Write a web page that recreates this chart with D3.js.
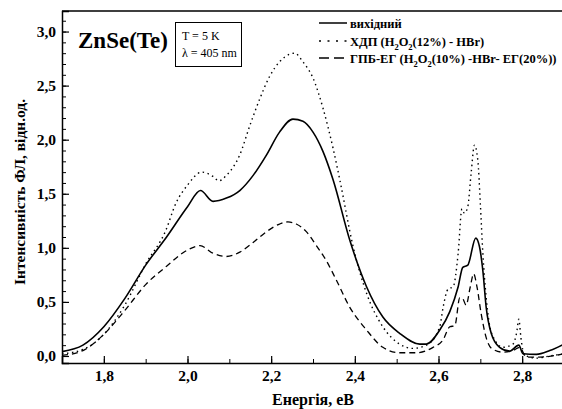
<!DOCTYPE html>
<html>
<head>
<meta charset="utf-8">
<script src="https://cdn.jsdelivr.net/npm/d3@7"></script>
<style>
  body { margin: 0; background: #fff; }
</style>
</head>
<body>
<div id="chart"></div>
<script>
// data (energy in eV, intensity in rel. units)
var energyBase = [1.70, 1.75, 1.80, 1.85, 1.90, 1.95, 2.00, 2.031, 2.061, 2.093, 2.125, 2.157, 2.189, 2.22, 2.252, 2.276, 2.30, 2.324, 2.348, 2.388, 2.428, 2.467, 2.507, 2.555, 2.571, 2.603, 2.627, 2.647, 2.658, 2.670, 2.689, 2.698, 2.706, 2.714, 2.726, 2.746, 2.77, 2.792, 2.802, 2.834, 2.866, 2.90];
var intensityBase = [0.04, 0.10, 0.27, 0.53, 0.84, 1.10, 1.38, 1.53, 1.43, 1.46, 1.53, 1.67, 1.86, 2.07, 2.19, 2.17, 2.07, 1.89, 1.63, 1.07, 0.64, 0.36, 0.21, 0.11, 0.11, 0.24, 0.41, 0.64, 0.82, 0.84, 1.09, 1.01, 0.79, 0.45, 0.21, 0.08, 0.045, 0.10, 0.02, 0.015, 0.05, 0.11];

var energyHBr = [1.70, 1.75, 1.80, 1.85, 1.90, 1.948, 1.972, 2.00, 2.034, 2.061, 2.075, 2.093, 2.125, 2.149, 2.173, 2.197, 2.22, 2.244, 2.256, 2.276, 2.30, 2.324, 2.348, 2.364, 2.396, 2.428, 2.467, 2.507, 2.539, 2.571, 2.603, 2.611, 2.623, 2.635, 2.647, 2.656, 2.662, 2.670, 2.678, 2.686, 2.694, 2.70, 2.706, 2.714, 2.727, 2.754, 2.778, 2.787, 2.792, 2.797, 2.805, 2.834, 2.866, 2.90];
var intensityHBr = [0.02, 0.06, 0.20, 0.47, 0.85, 1.16, 1.41, 1.58, 1.70, 1.66, 1.62, 1.67, 1.86, 2.13, 2.38, 2.59, 2.72, 2.79, 2.80, 2.72, 2.57, 2.29, 1.92, 1.63, 1.01, 0.58, 0.27, 0.11, 0.07, 0.10, 0.27, 0.45, 0.62, 0.64, 0.95, 1.36, 1.32, 1.38, 1.69, 1.95, 1.81, 1.41, 0.95, 0.54, 0.21, 0.08, 0.11, 0.22, 0.34, 0.17, 0.01, -0.02, 0.0, 0.02];

var energyEG = [1.70, 1.75, 1.80, 1.85, 1.90, 1.95, 2.00, 2.03, 2.061, 2.093, 2.125, 2.157, 2.189, 2.22, 2.24, 2.26, 2.284, 2.308, 2.332, 2.356, 2.388, 2.428, 2.467, 2.507, 2.547, 2.587, 2.611, 2.627, 2.639, 2.651, 2.658, 2.666, 2.676, 2.684, 2.692, 2.702, 2.714, 2.727, 2.754, 2.778, 2.794, 2.81, 2.842, 2.90];
var intensityEG = [0.005, 0.05, 0.20, 0.42, 0.66, 0.83, 0.98, 1.02, 0.95, 0.92, 0.96, 1.05, 1.15, 1.22, 1.24, 1.22, 1.15, 1.02, 0.88, 0.70, 0.45, 0.24, 0.08, 0.03, 0.03, 0.08, 0.15, 0.27, 0.28, 0.54, 0.53, 0.47, 0.64, 0.76, 0.64, 0.39, 0.17, 0.07, 0.035, 0.05, 0.08, -0.01, -0.01, 0.02];

var xTicks = [1.8, 2.0, 2.2, 2.4, 2.6, 2.8];
var yTicks = [0.0, 0.5, 1.0, 1.5, 2.0, 2.5, 3.0];

var serif = "'Liberation Serif', 'Times New Roman', Times, 'DejaVu Serif', serif";

var svgWidth = 562;
var svgHeight = 409;
var margin = { top: 11, right: -2, bottom: 46, left: 62 };
var width = svgWidth - margin.left - margin.right;
var height = svgHeight - margin.top - margin.bottom;

var svg = d3.select("#chart").append("svg")
  .attr("width", svgWidth)
  .attr("height", svgHeight)
  .style("font-family", serif);

var chartGroup = svg.append("g")
  .attr("transform", `translate(${margin.left}, ${margin.top})`);

var xScale = d3.scaleLinear().domain([1.7, 2.9]).range([0, width]);
var yScale = d3.scaleLinear().domain([-0.065, 3.19]).range([height, 0]);

var fmt = d => d3.format(".1f")(d).replace(".", ",");

// minor ticks
chartGroup.append("g")
  .attr("transform", `translate(0, ${height})`)
  .call(d3.axisBottom(xScale).tickValues(d3.range(1.7, 2.91, 0.1)).tickSize(-4).tickFormat(""))
  .call(g => g.select(".domain").remove());
chartGroup.append("g")
  .call(d3.axisLeft(yScale).tickValues(d3.range(0, 3.11, 0.1)).tickSize(-4).tickFormat(""))
  .call(g => g.select(".domain").remove());

// major axes
var xAxis = chartGroup.append("g")
  .attr("transform", `translate(0, ${height})`)
  .call(d3.axisBottom(xScale).tickValues(xTicks).tickSize(-7).tickPadding(7).tickFormat(fmt));
var yAxis = chartGroup.append("g")
  .call(d3.axisLeft(yScale).tickValues(yTicks).tickSize(-7).tickPadding(6).tickFormat(fmt));

[xAxis, yAxis].forEach(function(ax) {
  ax.attr("font-family", null);
  ax.selectAll("text")
    .style("font-family", serif)
    .style("font-size", "15.5px")
    .style("font-weight", "bold")
    .attr("fill", "#000");
  ax.selectAll("line").attr("stroke-width", 1.2);
  ax.select(".domain").attr("stroke-width", 1.5);
});

// frame top/right
chartGroup.append("path")
  .attr("d", `M0,0H${width}V${height}`)
  .attr("fill", "none")
  .attr("stroke", "#000")
  .attr("stroke-width", 1.5);

// clip for curves
svg.append("defs").append("clipPath").attr("id", "clip")
  .append("rect").attr("width", width).attr("height", height);

var line = d3.line()
  .x(d => xScale(d[0]))
  .y(d => yScale(d[1]))
  .curve(d3.curveMonotoneX);

var series = [
  { e: energyBase, v: intensityBase, dash: null, w: 1.6 },
  { e: energyHBr, v: intensityHBr, dash: "1.5,3.5", w: 1.4 },
  { e: energyEG, v: intensityEG, dash: "6,4", w: 1.3 }
];

series.forEach(function(s) {
  chartGroup.append("path")
    .datum(d3.zip(s.e, s.v))
    .attr("clip-path", "url(#clip)")
    .attr("fill", "none")
    .attr("stroke", "#000")
    .attr("stroke-width", s.w)
    .attr("stroke-dasharray", s.dash)
    .attr("d", line);
});

// axis titles
chartGroup.append("text")
  .attr("x", 251)
  .attr("y", height + 42)
  .attr("text-anchor", "middle")
  .style("font-family", serif)
  .style("font-size", "16px")
  .style("font-weight", "bold")
  .text("Енергія, еВ");

svg.append("text")
  .attr("transform", "translate(25, 192) rotate(-90)")
  .attr("text-anchor", "middle")
  .style("font-family", serif)
  .style("font-size", "15.5px")
  .style("font-weight", "bold")
  .text("Інтенсивність ФЛ, відн.од.");

// sample label
svg.append("text")
  .attr("x", 78)
  .attr("y", 48)
  .style("font-family", serif)
  .style("font-size", "23px")
  .style("font-weight", "bold")
  .text("ZnSe(Te)");

// conditions box
svg.append("rect")
  .attr("x", 175.5).attr("y", 22.5)
  .attr("width", 66).attr("height", 44)
  .attr("fill", "#fff")
  .attr("stroke", "#000")
  .attr("stroke-width", 1);
svg.append("text").attr("x", 182).attr("y", 40)
  .style("font-family", serif)
  .style("font-size", "12px").text("T = 5 K");
svg.append("text").attr("x", 182).attr("y", 57)
  .style("font-family", serif)
  .style("font-size", "12px").text("λ = 405 nm");

// legend
var legend = svg.append("g").attr("transform", "translate(319, 0)");
var legendRows = [
  { y: 23, dash: null, w: 1.5, parts: [["вихідний", 0]] },
  { y: 41, dash: "2,6.5", w: 1.4, parts: [["ХДП (H", 0], ["2", 1], ["O", 0], ["2", 1], ["(12%) - HBr)", 0]] },
  { y: 58, dash: "10,5", w: 1.4, parts: [["ГПБ-ЕГ (H", 0], ["2", 1], ["O", 0], ["2", 1], ["(10%) -HBr- ЕГ(20%))", 0]] }
];
legendRows.forEach(function(r) {
  legend.append("line")
    .attr("x1", 0).attr("x2", 28)
    .attr("y1", r.y).attr("y2", r.y)
    .attr("stroke", "#000")
    .attr("stroke-width", r.w)
    .attr("stroke-dasharray", r.dash);
  var t = legend.append("text")
    .attr("x", 31).attr("y", r.y + 4.5)
    .style("font-family", serif)
    .style("font-size", "12.5px")
    .style("font-weight", "bold");
  r.parts.forEach(function(p, i) {
    var prevSub = i > 0 && r.parts[i - 1][1];
    t.append("tspan")
      .attr("dy", p[1] ? 4 : (prevSub ? -4 : 0))
      .style("font-size", p[1] ? "8.5px" : null)
      .text(p[0]);
  });
});
</script>
</body>
</html>
